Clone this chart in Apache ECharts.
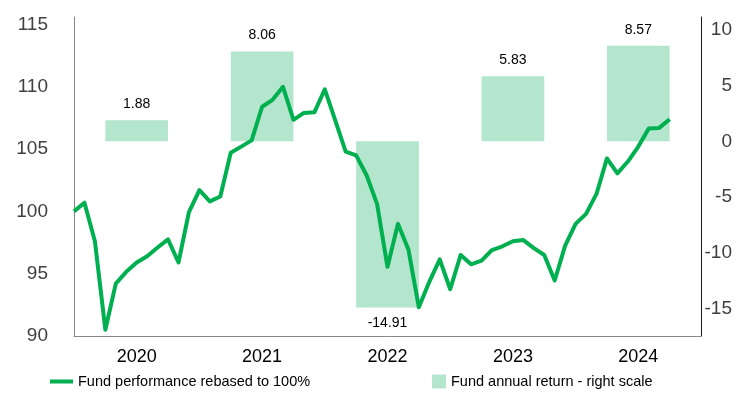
<!DOCTYPE html>
<html>
<head>
<meta charset="utf-8">
<script src="https://cdn.jsdelivr.net/npm/echarts@6/dist/echarts.min.js"></script>
<style>
  html, body { margin: 0; padding: 0; background: #fff; }
  #chart { width: 741px; height: 401px; }
</style>
</head>
<body>
<div id="chart"></div>
<script>
const years = ["2020", "2021", "2022", "2023", "2024"];
const annualReturn = [1.88, 8.06, -14.91, 5.83, 8.57];

// monthly fund performance, rebased to 100 (Jan 2020 .. Oct 2024)
const performance = [
  100.0, 100.7, 97.6, 90.5, 94.2, 95.15, 95.9, 96.4, 97.1, 97.75, 95.9, 99.95,
  101.7, 100.8, 101.2, 104.7, 105.2, 105.7, 108.4, 108.95, 110.0, 107.35, 107.9, 107.95,
  109.8, 107.3, 104.8, 104.5, 102.9, 100.6, 95.55, 99.0, 96.95, 92.3, 94.35, 96.15,
  93.75, 96.5, 95.75, 96.05, 96.9, 97.2, 97.6, 97.7, 97.05, 96.5, 94.45, 97.25,
  99.0, 99.8, 101.4, 104.25, 103.05, 104.0, 105.2, 106.65, 106.7, 107.4
];

const leftTicks = [90, 95, 100, 105, 110, 115];
const rightTicks = [-15, -10, -5, 0, 5, 10];

const lineName = "Fund performance rebased to 100%";
const barName = "Fund annual return - right scale";
const font = "Liberation Sans, Arial, sans-serif";

const chart = echarts.init(document.getElementById("chart"));

chart.setOption({
  animation: false,
  textStyle: { fontFamily: font },
  grid: { left: 74, right: 40, top: 17, bottom: 65 },
  legend: [
    {
      data: [{ name: lineName, icon: "rect" }],
      left: 45, bottom: 7,
      itemWidth: 23, itemHeight: 4,
      textStyle: { fontSize: 14.5, color: "#000", fontFamily: font }
    },
    {
      data: [{ name: barName, icon: "rect" }],
      left: 427, bottom: 7,
      itemWidth: 14, itemHeight: 14,
      textStyle: { fontSize: 14.5, color: "#000", fontFamily: font }
    }
  ],
  xAxis: [
    {
      type: "category",
      data: years,
      axisLine: { onZero: false, lineStyle: { color: "#868686", width: 1 } },
      axisTick: { show: false },
      axisLabel: { fontSize: 18, color: "#000", margin: 12, fontFamily: font }
    },
    {
      type: "value",
      min: 0,
      max: 60,
      show: false
    }
  ],
  yAxis: [
    {
      type: "value",
      position: "left",
      min: 90,
      max: 115.6,
      splitLine: { show: false },
      axisLine: { show: true, lineStyle: { color: "#868686", width: 1 } },
      axisTick: { show: false },
      axisLabel: {
        customValues: leftTicks,
        fontSize: 19, color: "#404040", margin: 26, fontFamily: font
      }
    },
    {
      type: "value",
      position: "right",
      min: -17.46,
      max: 11.15,
      splitLine: { show: false },
      axisLine: { show: true, lineStyle: { color: "#1a1a1a", width: 1 } },
      axisTick: { show: false },
      axisLabel: {
        customValues: rightTicks,
        align: "right",
        fontSize: 19, color: "#404040", margin: 31, fontFamily: font
      }
    }
  ],
  series: [
    {
      name: barName,
      type: "bar",
      xAxisIndex: 0,
      yAxisIndex: 1,
      barWidth: "50%",
      itemStyle: { color: "#b3e6cc" },
      data: annualReturn.map((v) => ({
        value: v,
        label: { position: v < 0 ? "bottom" : "top" }
      })),
      label: {
        show: true,
        distance: 9,
        fontSize: 14,
        lineHeight: 14,
        color: "#000",
        fontFamily: font,
        formatter: (p) => p.value.toFixed(2)
      },
      z: 1
    },
    {
      name: lineName,
      type: "line",
      xAxisIndex: 1,
      yAxisIndex: 0,
      data: performance.map((v, i) => [i, v]),
      showSymbol: false,
      symbol: "none",
      lineStyle: { color: "#00b050", width: 4, join: "round" },
      itemStyle: { color: "#00b050" },
      z: 3
    }
  ]
});
</script>
</body>
</html>
